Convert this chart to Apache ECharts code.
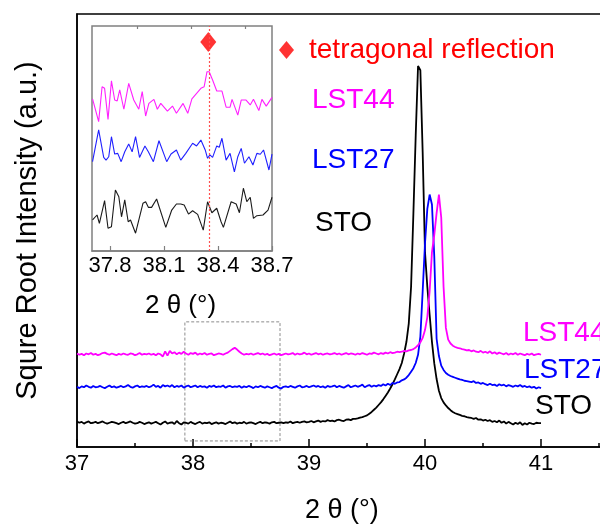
<!DOCTYPE html>
<html>
<head>
<meta charset="utf-8">
<style>
  html, body { margin: 0; padding: 0; background: #fff; }
  #chart { width: 600px; height: 529px; }
</style>
<script src="https://cdn.jsdelivr.net/npm/echarts@6/dist/echarts.min.js"></script>
</head>
<body>
<div id="chart"></div>
<script>
var FONT = '"Liberation Sans", Arial, sans-serif';

// main scan: 37.00 .. 41.00 deg, 0.02 deg step (sqrt intensity, offset per sample)
var scanStart = 37.0;
var scanStep = 0.02;

var stoMain = [
    5.9, 5.6, 5.8, 5.4, 5.7, 5.9, 5.5, 5.6, 5.8, 5.5,
    5.7, 5.9, 5.6, 5.4, 5.6, 5.8, 5.7, 5.5, 5.3, 5.6,
    5.8, 5.5, 5.7, 5.9, 5.6, 5.4, 5.5, 5.8, 5.6, 5.3,
    5.5, 5.7, 5.4, 5.6, 5.8, 5.5, 5.2, 5.6, 5.9, 5.4,
    5.6, 5.7, 5.3, 6.0, 5.5, 5.2, 5.7, 5.6, 5.4, 5.8,
    5.5, 5.3, 5.6, 5.8, 5.4, 5.6, 5.5, 5.7, 5.3, 5.5,
    5.7, 5.4, 5.6, 5.5, 5.3, 5.6, 5.9, 5.5, 5.7, 5.4,
    5.6, 5.5, 5.8, 5.4, 5.6, 5.7, 5.5, 5.3, 5.6, 5.8,
    5.5, 5.7, 5.6, 5.4, 5.7, 5.8, 5.5, 5.6, 5.7, 5.5,
    5.7, 5.6, 5.9, 5.5, 5.7, 5.8, 5.6, 5.8, 5.9, 5.7,
    5.8, 6.0, 5.7, 5.9, 6.1, 5.8, 6.0, 5.9, 6.2, 6.0,
    6.1, 5.9, 6.2, 6.3, 6.1, 6.0, 6.3, 6.4, 6.2, 6.5,
    6.5, 6.6, 6.8, 6.9, 7.1, 7.3, 7.7, 8.1, 8.6, 9.1,
    9.7, 10.3, 11.0, 11.8, 12.6, 13.5, 14.5, 15.6, 16.8, 18.0,
    19.4, 21.6, 24.3, 28.5, 37.0, 54.0, 72.0, 88.0, 87.0, 68.0,
    45.0, 37.0, 30.5, 24.3, 19.3, 15.7, 13.0, 11.3, 10.3, 9.6,
    9.0, 8.5, 8.1, 7.8, 7.6, 7.4, 7.2, 7.1, 6.9, 6.8,
    6.7, 6.5, 6.7, 6.3, 6.4, 6.1, 6.3, 6.0, 6.2, 5.8,
    6.0, 5.7, 6.1, 5.6, 5.9, 5.4, 5.8, 5.5, 5.2, 5.6,
    5.3, 5.7, 5.1, 5.5, 5.2, 5.6, 5.4, 5.3, 5.6, 5.5,
    5.5
];

var lst27Main = [
    13.9, 13.6, 14.0, 13.8, 14.2, 13.9, 13.7, 14.1, 13.8, 13.9,
    14.1, 13.8, 13.6, 13.9, 14.2, 13.8, 14.0, 13.7, 13.9, 14.1,
    13.8, 14.0, 14.3, 13.9, 13.7, 14.0, 14.2, 13.8, 14.0, 13.9,
    14.1, 13.8, 14.0, 14.4, 13.9, 14.1, 13.7, 14.3, 14.0, 14.2,
    13.9, 14.3, 13.8, 14.1, 13.9, 14.2, 13.7, 14.0, 14.2, 13.8,
    14.0, 14.2, 13.8, 14.1, 13.9, 14.0, 13.7, 14.1, 13.9, 14.2,
    13.8, 14.0, 13.9, 14.2, 13.7, 14.0, 14.1, 13.8, 14.0, 13.9,
    14.1, 13.7, 14.0, 13.8, 14.1, 13.9, 13.6, 14.0, 13.8, 14.1,
    13.9, 13.7, 14.0, 13.8, 13.6, 13.9, 14.1, 13.7, 13.5, 13.9,
    14.0, 13.8, 14.1, 13.9, 13.7, 14.0, 14.2, 13.8, 13.9, 14.1,
    13.8, 14.0, 14.2, 13.9, 14.1, 13.8, 14.0, 13.7, 14.1, 13.9,
    14.0, 14.2, 13.8, 14.1, 13.9, 13.7, 14.0, 14.3, 13.8, 14.0,
    14.2, 13.9, 14.1, 14.4, 13.8, 14.1, 14.3, 13.9, 14.2, 14.0,
    14.3, 14.1, 14.5, 14.2, 14.6, 14.3, 14.8, 14.6, 14.9, 15.0,
    15.4, 15.6, 16.0, 16.6, 17.4, 18.2, 19.4, 21.3, 25.5, 36.0,
    47.0, 55.0, 58.3, 56.0, 44.0, 25.0, 21.0, 18.8, 17.8, 17.1,
    16.7, 16.4, 16.2, 16.0, 15.8, 15.6, 15.5, 15.3, 15.2, 15.1,
    15.0, 15.2, 14.8, 14.9, 14.6, 14.8, 14.5, 14.3, 14.6, 14.3,
    14.4, 14.1, 14.5, 14.2, 14.4, 14.0, 14.3, 14.1, 13.9, 14.2,
    14.0, 14.3, 13.9, 14.1, 13.8, 14.0, 13.7, 13.9, 13.5, 13.8,
    13.6
];

var lst44Main = [
    21.6, 21.3, 21.5, 21.2, 21.6, 21.4, 21.7, 21.3, 21.5, 21.2,
    21.4, 21.7, 21.8, 21.5, 21.3, 21.6, 21.4, 21.2, 21.5, 21.3,
    21.6, 21.4, 21.3, 21.6, 21.5, 21.2, 21.4, 21.7, 21.3, 21.5,
    21.4, 21.6, 21.3, 21.5, 21.2, 21.6, 21.4, 20.9, 22.1, 21.1,
    22.2, 21.6, 21.9, 21.4, 21.8, 21.5, 22.0, 21.6, 21.3, 21.7,
    21.5, 21.8, 21.3, 21.6, 21.4, 21.7, 21.3, 21.5, 21.6, 21.2,
    21.4, 21.6, 21.5, 21.3, 21.6, 21.8, 22.2, 22.6, 22.9, 22.5,
    22.0, 21.6, 21.3, 21.5, 21.4, 21.6, 21.3, 21.5, 21.7, 21.4,
    21.6, 21.3, 21.5, 21.2, 21.4, 21.6, 21.3, 21.5, 21.2, 21.4,
    21.6, 21.4, 21.5, 21.7, 21.3, 21.6, 21.4, 21.5, 21.8, 21.4,
    21.6, 21.3, 21.5, 21.7, 21.4, 21.6, 21.3, 21.5, 21.6, 21.4,
    21.5, 21.7, 21.4, 21.6, 21.3, 21.5, 21.7, 21.4, 21.6, 21.5,
    21.3, 21.6, 21.4, 21.7, 21.5, 21.3, 21.6, 21.5, 21.8, 21.6,
    21.4, 21.7, 21.5, 21.8, 21.6, 21.9, 21.7, 21.8, 22.0, 21.9,
    22.0, 22.2, 22.1, 22.3, 22.4, 22.6, 23.0, 23.5, 24.2, 25.2,
    27.0, 30.0, 36.0, 45.0, 49.0, 54.0, 58.3, 53.0, 37.0, 27.5,
    24.8, 23.9, 23.4, 23.1, 22.9, 22.8, 22.6, 22.5, 22.3, 22.4,
    22.1, 22.3, 22.0, 21.9, 22.2, 21.8, 22.0, 21.7, 22.1, 21.6,
    21.9, 21.5, 21.8, 21.6, 21.4, 21.7, 21.3, 21.6, 21.4, 21.7,
    21.3, 21.6, 21.4, 21.2, 21.5, 21.3, 21.6, 21.2, 21.4, 21.5,
    21.3
];

// inset (37.7 .. 38.7 deg), read point by point
var insetStoX = [37.703, 37.728, 37.741, 37.770, 37.789, 37.808, 37.830, 37.849, 37.864, 37.882,
    37.901, 37.914, 37.942, 37.983, 37.998, 38.013, 38.031, 38.059, 38.110, 38.143,
    38.169, 38.193, 38.212, 38.236, 38.259, 38.287, 38.318, 38.342, 38.366, 38.393,
    38.417, 38.430, 38.473, 38.501, 38.519, 38.541, 38.560, 38.579, 38.597, 38.616,
    38.650, 38.678, 38.700];
var insetStoY = [13.8, 16.0, 12.3, 22.4, 10.1, 10.8, 27.1, 24.1, 15.2, 22.7,
    13.0, 13.8, 7.9, 21.2, 21.9, 19.4, 19.4, 23.1, 10.5, 18.2,
    20.9, 20.9, 20.4, 16.4, 17.9, 16.3, 9.3, 21.9, 17.0, 19.0,
    13.0, 10.5, 21.9, 20.9, 17.0, 27.9, 21.9, 23.9, 14.5, 15.7,
    16.0, 18.2, 23.9];

var insetLst27X = [37.703, 37.737, 37.765, 37.778, 37.793, 37.808, 37.826, 37.843, 37.862, 37.882,
    37.904, 37.923, 37.942, 37.964, 37.994, 38.013, 38.041, 38.072, 38.115, 38.139,
    38.169, 38.193, 38.221, 38.259, 38.281, 38.305, 38.329, 38.342, 38.355, 38.370,
    38.393, 38.407, 38.422, 38.445, 38.467, 38.491, 38.510, 38.529, 38.547, 38.572,
    38.594, 38.616, 38.635, 38.653, 38.683, 38.700];
var insetLst27Y = [39.7, 53.8, 41.6, 40.4, 41.9, 50.8, 43.1, 43.4, 39.7, 44.1,
    47.6, 44.1, 50.8, 41.6, 46.7, 44.1, 39.7, 49.0, 39.7, 43.1,
    44.9, 40.4, 43.4, 47.9, 46.7, 49.3, 44.9, 41.2, 42.7, 41.6,
    46.7, 46.1, 50.1, 40.4, 43.4, 35.2, 41.9, 45.6, 39.0, 41.9,
    38.2, 43.4, 43.0, 44.9, 36.0, 43.1];

var insetLst44X = [37.703, 37.737, 37.756, 37.770, 37.789, 37.808, 37.826, 37.840, 37.854, 37.877,
    37.904, 37.932, 37.960, 37.979, 37.998, 38.016, 38.044, 38.063, 38.082, 38.119,
    38.147, 38.169, 38.206, 38.232, 38.255, 38.305, 38.323, 38.339, 38.351, 38.370,
    38.393, 38.422, 38.445, 38.467, 38.478, 38.510, 38.529, 38.556, 38.579, 38.597,
    38.627, 38.644, 38.668, 38.700];
var insetLst44Y = [67.6, 57.5, 73.0, 72.3, 58.5, 75.6, 67.1, 66.7, 71.6, 63.0,
    74.5, 67.1, 63.0, 70.8, 60.0, 65.6, 67.4, 63.0, 65.6, 62.2,
    64.4, 61.2, 65.6, 61.2, 67.6, 72.3, 73.0, 79.7, 79.7, 76.0,
    71.1, 71.1, 63.9, 63.9, 67.4, 60.4, 67.1, 67.1, 64.9, 67.4,
    62.4, 67.4, 64.4, 68.3];

var tetragonalPeak = [38.346, 92.9];
var insetMajorTicks = [37.8, 38.1, 38.4, 38.7];
var insetMinorTicks = [37.95, 38.25, 38.55];
var zoomBox = [[37.93, 1.4], [38.75, 28.9]];

function scan(values) {
    return values.map(function (v, i) {
        return [+(scanStart + i * scanStep).toFixed(2), v];
    });
}

function pairs(xs, ys) {
    var out = [];
    for (var i = 0; i < Math.min(xs.length, ys.length); i++) {
        out.push([xs[i], ys[i]]);
    }
    return out;
}

function mainLine(name, color, values) {
    return {
        name: name,
        type: 'line',
        xAxisIndex: 0,
        yAxisIndex: 0,
        symbol: 'none',
        lineStyle: { color: color, width: 1.8 },
        data: scan(values)
    };
}

function insetLine(name, color, xs, ys) {
    return {
        name: name + ' inset',
        type: 'line',
        xAxisIndex: 1,
        yAxisIndex: 1,
        symbol: 'none',
        lineStyle: { color: color, width: 1.1 },
        data: pairs(xs, ys)
    };
}

function label(text, color, x, y, size) {
    return {
        type: 'text',
        x: x,
        y: y,
        style: {
            text: text,
            fill: color,
            fontSize: size,
            fontFamily: FONT,
            verticalAlign: 'middle'
        }
    };
}

var chartDom = document.getElementById('chart');
var myChart = echarts.init(chartDom, null, { renderer: 'canvas' });

var stoSeries = mainLine('STO', '#000000', stoMain);
stoSeries.markArea = {
    silent: true,
    itemStyle: {
        color: 'rgba(0,0,0,0)',
        borderColor: '#8c8c8c',
        borderWidth: 1,
        borderType: [3, 2]
    },
    data: [[{ coord: zoomBox[0] }, { coord: zoomBox[1] }]]
};

var option = {
    animation: false,
    backgroundColor: '#ffffff',
    textStyle: { fontFamily: FONT },
    legend: {
        data: [{ name: 'tetragonal reflection', icon: 'diamond' }],
        selectedMode: false,
        left: 274,
        top: 31,
        itemWidth: 15,
        itemHeight: 18,
        textStyle: {
            color: '#ff0000',
            fontSize: 28,
            fontFamily: FONT,
            padding: [0, 0, 0, 10]
        }
    },
    grid: [
        {
            left: 77, top: 14, width: 580, height: 433,
            outerBoundsMode: 'none', containLabel: false,
            show: true, borderColor: '#000', borderWidth: 1.5
        },
        {
            left: 92, top: 26, width: 180, height: 225,
            outerBoundsMode: 'none', containLabel: false,
            show: true, borderColor: '#808080', borderWidth: 1.5, backgroundColor: '#fff'
        }
    ],
    xAxis: [
        {
            gridIndex: 0,
            type: 'value',
            min: 37,
            max: 42,
            interval: 1,
            axisLine: { lineStyle: { color: '#000', width: 1.5 } },
            axisTick: { inside: true, length: 8, lineStyle: { color: '#000', width: 1.5 } },
            minorTick: { show: true, splitNumber: 2, length: 4, lineStyle: { color: '#000', width: 1.5 } },
            axisLabel: { color: '#000', fontSize: 22, margin: 6, fontFamily: FONT },
            splitLine: { show: false }
        },
        {
            gridIndex: 1,
            type: 'value',
            min: 37.7,
            max: 38.7,
            axisLine: { lineStyle: { color: '#808080', width: 1.5 } },
            axisTick: { inside: true, length: 5, customValues: insetMajorTicks, lineStyle: { color: '#808080', width: 1.2 } },
            axisLabel: {
                customValues: insetMajorTicks,
                color: '#000',
                fontSize: 22,
                margin: 4,
                fontFamily: FONT,
                formatter: function (v) { return v.toFixed(1); }
            },
            splitLine: { show: false }
        },
        {
            gridIndex: 1,
            type: 'value',
            min: 37.7,
            max: 38.7,
            axisLine: { show: false },
            axisTick: { inside: true, length: 3, customValues: insetMinorTicks, lineStyle: { color: '#808080', width: 1.2 } },
            axisLabel: { show: false },
            splitLine: { show: false }
        }
    ],
    yAxis: [
        {
            gridIndex: 0,
            type: 'value',
            min: 0,
            max: 100,
            axisLine: { show: true, lineStyle: { color: '#000', width: 1.5 } },
            axisTick: { show: false },
            axisLabel: { show: false },
            splitLine: { show: false },
            name: 'Squre Root Intensity (a.u.)',
            nameLocation: 'middle',
            nameRotate: 90,
            nameGap: 35,
            nameTextStyle: { color: '#000', fontSize: 29, fontFamily: FONT }
        },
        {
            gridIndex: 1,
            type: 'value',
            min: 0,
            max: 100,
            show: false
        }
    ],
    graphic: [
        label('LST44', '#ff00ff', 312, 100, 28),
        label('LST27', '#0000ff', 312, 160, 28),
        label('STO', '#000000', 315, 223, 28),
        label('LST44', '#ff00ff', 523, 333, 28),
        label('LST27', '#0000ff', 524, 370, 28),
        label('STO', '#000000', 535, 406, 28),
        label('2 \u03b8 (\u00b0)', '#000000', 305, 511, 27),
        label('2 \u03b8 (\u00b0)', '#000000', 145, 306, 26)
    ],
    series: [
        stoSeries,
        mainLine('LST27', '#0000ff', lst27Main),
        mainLine('LST44', '#ff00ff', lst44Main),
        insetLine('STO', '#1a1a1a', insetStoX, insetStoY),
        insetLine('LST27', '#2020ff', insetLst27X, insetLst27Y),
        insetLine('LST44', '#ff20ff', insetLst44X, insetLst44Y),
        {
            name: 'tetragonal reflection',
            type: 'scatter',
            xAxisIndex: 1,
            yAxisIndex: 1,
            symbol: 'diamond',
            symbolSize: [16, 20],
            itemStyle: { color: '#ff0000' },
            data: [tetragonalPeak],
            markLine: {
                silent: true,
                symbol: 'none',
                label: { show: false },
                emphasis: { disabled: true },
                itemStyle: { color: '#ff5050' },
                lineStyle: { color: '#ff5050', width: 1.2, type: [2, 2], opacity: 1 },
                data: [{ xAxis: tetragonalPeak[0] }]
            }
        }
    ]
};

myChart.setOption(option);
</script>
</body>
</html>
